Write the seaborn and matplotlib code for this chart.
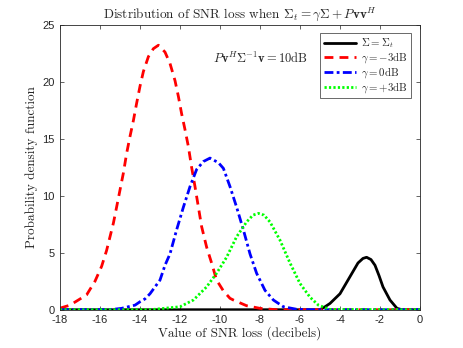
import numpy as np
import pandas as pd
import matplotlib
matplotlib.use("Agg")
import matplotlib.pyplot as plt
import seaborn as sns

# Values (SNR loss in dB, pdf value)
x_sigma = [-18.0, -5.0, -4.8, -4.5, -4.0, -3.5, -3.1, -2.85, -2.67, -2.45, -2.25, -2.05, -1.85, -1.5, -1.15, -0.9, 0.0]
y_sigma = [0.0, 0.0, 0.2, 0.55, 1.4, 2.9, 4.1, 4.5, 4.6, 4.4, 3.9, 3.0, 2.0, 0.85, 0.12, 0.0, 0.0]

x_m3 = [-18.0, -17.92, -17.5, -16.67, -16.25, -15.92, -15.67, -15.5, -15.33, -15.17, -15.0, -14.83,
        -14.67, -14.5, -14.33, -14.17, -14.0, -13.83, -13.58, -13.33, -13.08, -12.75, -12.5, -12.25,
        -12.08, -11.92, -11.75, -11.58, -11.42, -11.25, -11.08, -10.92, -10.67, -10.42, -10.17,
        -9.83, -9.5, -9.33, -8.67, -8.0, -7.17, 0.0]
y_m3 = [0.1, 0.18, 0.4, 1.3, 2.5, 3.8, 5.2, 6.4, 7.6, 9.0, 10.5, 12.0,
        13.7, 15.2, 16.6, 18.1, 19.6, 20.9, 22.2, 22.9, 23.2, 22.6, 21.6, 20.1,
        18.7, 17.2, 15.8, 14.3, 12.5, 10.8, 9.0, 7.3, 5.5, 4.1, 2.6,
        1.65, 1.0, 0.85, 0.35, 0.12, 0.0, 0.0]

x_0 = [-18.0, -15.5, -14.92, -14.25, -14.0, -13.75, -13.5, -13.25, -13.0, -12.75, -12.5, -12.17,
       -11.83, -11.5, -11.17, -10.83, -10.5, -10.08, -9.83, -9.5, -9.17, -8.83, -8.5, -8.17,
       -7.75, -7.33, -6.83, -6.17, -5.5, 0.0]
y_0 = [0.0, 0.0, 0.12, 0.4, 0.7, 0.95, 1.4, 2.0, 2.6, 3.9, 4.9, 7.0,
       9.0, 10.8, 12.3, 13.0, 13.3, 12.9, 12.4, 10.8, 9.0, 7.0, 4.9, 3.2,
       1.7, 0.85, 0.26, 0.04, 0.0, 0.0]

x_p3 = [-18.0, -13.5, -12.0, -11.33, -10.67, -10.17, -9.67, -9.17, -8.67, -8.35, -8.08, -7.8, -7.5,
        -7.0, -6.5, -6.0, -5.5, -5.08, -4.5, 0.0]
y_p3 = [0.0, 0.0, 0.26, 0.85, 2.0, 3.2, 4.6, 6.4, 7.7, 8.3, 8.45, 8.3, 7.7,
        6.1, 4.1, 2.3, 1.1, 0.4, 0.03, 0.0]

x_ticks = [-18, -16, -14, -12, -10, -8, -6, -4, -2, 0]
y_ticks = [0, 5, 10, 15, 20, 25]

sns.set_style("ticks")
plt.rcParams['mathtext.fontset'] = 'cm'
plt.rcParams['axes.unicode_minus'] = False
plt.rcParams['font.family'] = ['Liberation Sans', 'DejaVu Sans']

fig = plt.figure(figsize=(4.63, 3.48), dpi=100)
ax = fig.add_axes([0.1296, 0.110, 0.7775, 0.819])

curves = [
    (x_sigma, y_sigma, r'$\boldsymbol{\Sigma} = \boldsymbol{\Sigma}_t$', 'black', '-'),
    (x_m3, y_m3, r'$\gamma = -3$dB', '#ff0000', (0, (3.2, 2.2))),
    (x_0, y_0, r'$\gamma = 0$dB', '#0000ff', (0, (3.2, 1.2, 1.0, 1.2))),
    (x_p3, y_p3, r'$\gamma = +3$dB', '#00ff00', (0, (0.8, 0.8))),
]
for xs, ys, lab, col, ls in curves:
    df = pd.DataFrame({'x': xs, 'y': ys})
    sns.lineplot(data=df, x='x', y='y', ax=ax, color=col, linestyle=ls,
                 linewidth=2, label=lab)

ax.set_xlim(-18, 0)
ax.set_ylim(0, 25)
ax.set_xticks(x_ticks)
ax.set_yticks(y_ticks)
ax.tick_params(direction='in', top=True, right=True, length=3, width=0.5,
               labelsize=8, colors='#262626', pad=4)
for s in ax.spines.values():
    s.set_linewidth(0.6)
    s.set_color('#262626')

serif = 'cmr10'
ax.set_title(r'Distribution of SNR loss when $\boldsymbol{\Sigma}_t = \gamma\boldsymbol{\Sigma} + P\mathbf{v}\mathbf{v}^H$',
             fontsize=9.5, family=serif, pad=5)
ax.set_xlabel('Value of SNR loss (decibels)', fontsize=9.5, family=serif, color='#262626', labelpad=1)
ax.set_ylabel('Probability density function', fontsize=9.5, family=serif, color='#262626', labelpad=3)

ax.text(-10.35, 22.0, r'$P\mathbf{v}^H\boldsymbol{\Sigma}^{-1}\mathbf{v} = 10$dB', fontsize=9,
        family=serif, va='center', ha='left')

leg = ax.legend(loc='upper right', frameon=True, fancybox=False,
                handlelength=3.0, handletextpad=0.5, borderpad=0.3, labelspacing=0.0,
                borderaxespad=0.8, edgecolor='#262626', prop={'family': serif, 'size': 7.8})
leg.get_frame().set_linewidth(0.6)

fig.savefig('out.png', dpi=100)
